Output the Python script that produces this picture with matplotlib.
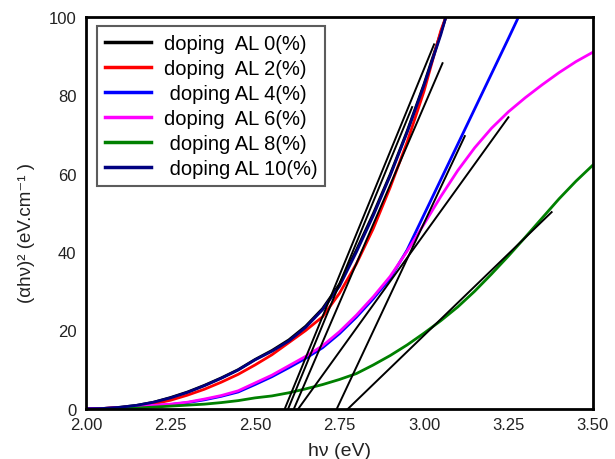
import matplotlib
matplotlib.use("Agg")
import matplotlib.pyplot as plt
import numpy as np

# Photon energy grids (eV)
energy_a = [2.00, 2.05, 2.10, 2.15, 2.20, 2.25, 2.30, 2.35, 2.40, 2.45, 2.50, 2.55,
            2.60, 2.65, 2.70, 2.75, 2.80, 2.85, 2.90, 2.95, 3.00, 3.05, 3.065]
energy_b = [2.00, 2.05, 2.10, 2.15, 2.20, 2.25, 2.30, 2.35, 2.40, 2.45, 2.50, 2.55,
            2.60, 2.65, 2.70, 2.75, 2.80, 2.85, 2.90, 2.95, 3.00, 3.05, 3.10, 3.15,
            3.20, 3.25, 3.28]
energy_c = [2.00, 2.05, 2.10, 2.15, 2.20, 2.25, 2.30, 2.35, 2.40, 2.45, 2.50, 2.55,
            2.60, 2.65, 2.70, 2.75, 2.80, 2.85, 2.90, 2.95, 3.00, 3.05, 3.10, 3.15,
            3.20, 3.25, 3.30, 3.35, 3.40, 3.45, 3.50]
energy_g = [2.10, 2.15, 2.20, 2.25, 2.30, 2.35, 2.40, 2.45, 2.50, 2.55, 2.60, 2.65,
            2.70, 2.75, 2.80, 2.85, 2.90, 2.95, 3.00, 3.05, 3.10, 3.15, 3.20, 3.25,
            3.30, 3.35, 3.40, 3.45, 3.50]

# (alpha h nu)^2 values for each Al doping level
al0 = [0.0, 0.1, 0.4, 0.9, 1.7, 2.9, 4.3, 6.0, 7.9, 10.0, 12.6, 14.9,
       17.6, 21.1, 25.6, 31.8, 40.5, 49.8, 59.8, 70.8, 82.8, 96.0, 100.0]
al2 = [0.0, 0.1, 0.3, 0.7, 1.3, 2.2, 3.5, 5.0, 6.8, 8.8, 11.2, 13.8,
       16.9, 20.0, 23.5, 29.5, 37.0, 46.0, 56.5, 68.0, 81.0, 96.5, 100.0]
al4 = [0.0, 0.05, 0.2, 0.5, 0.8, 1.1, 1.6, 2.3, 3.2, 4.3, 6.2, 8.2,
       10.5, 12.9, 15.6, 19.2, 23.4, 28.1, 33.3, 40.5, 49.5, 58.5, 67.5, 76.5,
       85.5, 94.5, 100.0]
al6 = [0.0, 0.1, 0.3, 0.6, 0.9, 1.2, 1.7, 2.5, 3.4, 4.6, 6.6, 8.6,
       11.0, 13.4, 16.1, 19.7, 23.9, 28.6, 33.8, 40.2, 47.1, 54.2, 60.8, 66.6,
       71.6, 75.8, 79.4, 82.7, 85.8, 88.6, 91.0]
al8 = [0.0, 0.2, 0.45, 0.7, 0.95, 1.2, 1.6, 2.1, 2.8, 3.3, 4.1, 5.1,
       6.2, 7.5, 9.0, 11.2, 13.6, 16.3, 19.3, 22.5, 26.0, 30.0, 34.4, 39.0,
       43.8, 48.7, 53.6, 58.1, 62.2]
al10 = [0.0, 0.1, 0.4, 0.9, 1.7, 2.8, 4.2, 5.9, 7.8, 9.9, 12.5, 14.7,
        17.3, 20.8, 25.3, 31.3, 40.0, 49.3, 59.5, 70.5, 82.5, 95.5, 100.0]

# Linear extrapolation segments (start and end points, eV and value)
fit_x = [[2.588, 3.030], [2.615, 3.055], [2.742, 3.121], [2.628, 3.250],
         [2.775, 3.378], [2.598, 2.965]]
fit_y = [[0.0, 93.0], [0.0, 88.2], [0.0, 69.6], [0.0, 74.4],
         [0.0, 50.2], [0.0, 77.0]]

labels = ["doping  AL 0(%)", "doping  AL 2(%)", " doping AL 4(%)",
          "doping  AL 6(%)", " doping AL 8(%)", " doping AL 10(%)"]
colors = ["#000000", "#ff0000", "#0000ff", "#ff00ff", "#008000", "#000080"]

x_ticks = [2.00, 2.25, 2.50, 2.75, 3.00, 3.25, 3.50]
y_ticks = [0, 20, 40, 60, 80, 100]

plt.rcParams["font.family"] = ["Liberation Sans", "DejaVu Sans"]

fig = plt.figure(figsize=(6.15, 4.60), dpi=100)
ax = fig.add_axes([0.140, 0.109, 0.824, 0.852])

series = [(energy_a, al0), (energy_a, al2), (energy_b, al4),
          (energy_c, al6), (energy_g, al8), (energy_a, al10)]
for (ex, ey), lab, col in zip(series, labels, colors):
    ax.plot(ex, ey, color=col, lw=2.0, label=lab, zorder=2)

for fx, fy in zip(fit_x, fit_y):
    ax.plot(fx, fy, color="black", lw=1.4, zorder=3)

ax.set_xlim(2.0, 3.5)
ax.set_ylim(0, 100)
ax.set_xticks(x_ticks)
ax.set_xticklabels([f"{v:.2f}" for v in x_ticks])
ax.set_yticks(y_ticks)
ax.set_yticklabels([str(v) for v in y_ticks])
ax.tick_params(length=0, labelsize=12, labelcolor="#222222")
ax.tick_params(axis="x", pad=6)
ax.tick_params(axis="y", pad=7)
for sp in ax.spines.values():
    sp.set_linewidth(2.0)
    sp.set_color("black")

ax.set_xlabel("hν (eV)", fontsize=14, color="#222222")
ax.xaxis.set_label_coords(0.5, -0.085)
ax.set_ylabel("(αhν)² (eV.cm⁻¹ )", fontsize=13.5, color="#222222")
ax.yaxis.set_label_coords(-0.10, 0.45)

leg = ax.legend(loc="upper left", bbox_to_anchor=(0.0217, 0.977), fontsize=14.5,
                frameon=True, fancybox=False, edgecolor="#333333",
                handlelength=2.3, handletextpad=0.6, labelspacing=0.3,
                borderpad=0.4, borderaxespad=0.0)
leg.get_frame().set_linewidth(1.5)
for h in leg.get_lines():
    h.set_linewidth(2.5)

fig.savefig("out.png", dpi=100)
